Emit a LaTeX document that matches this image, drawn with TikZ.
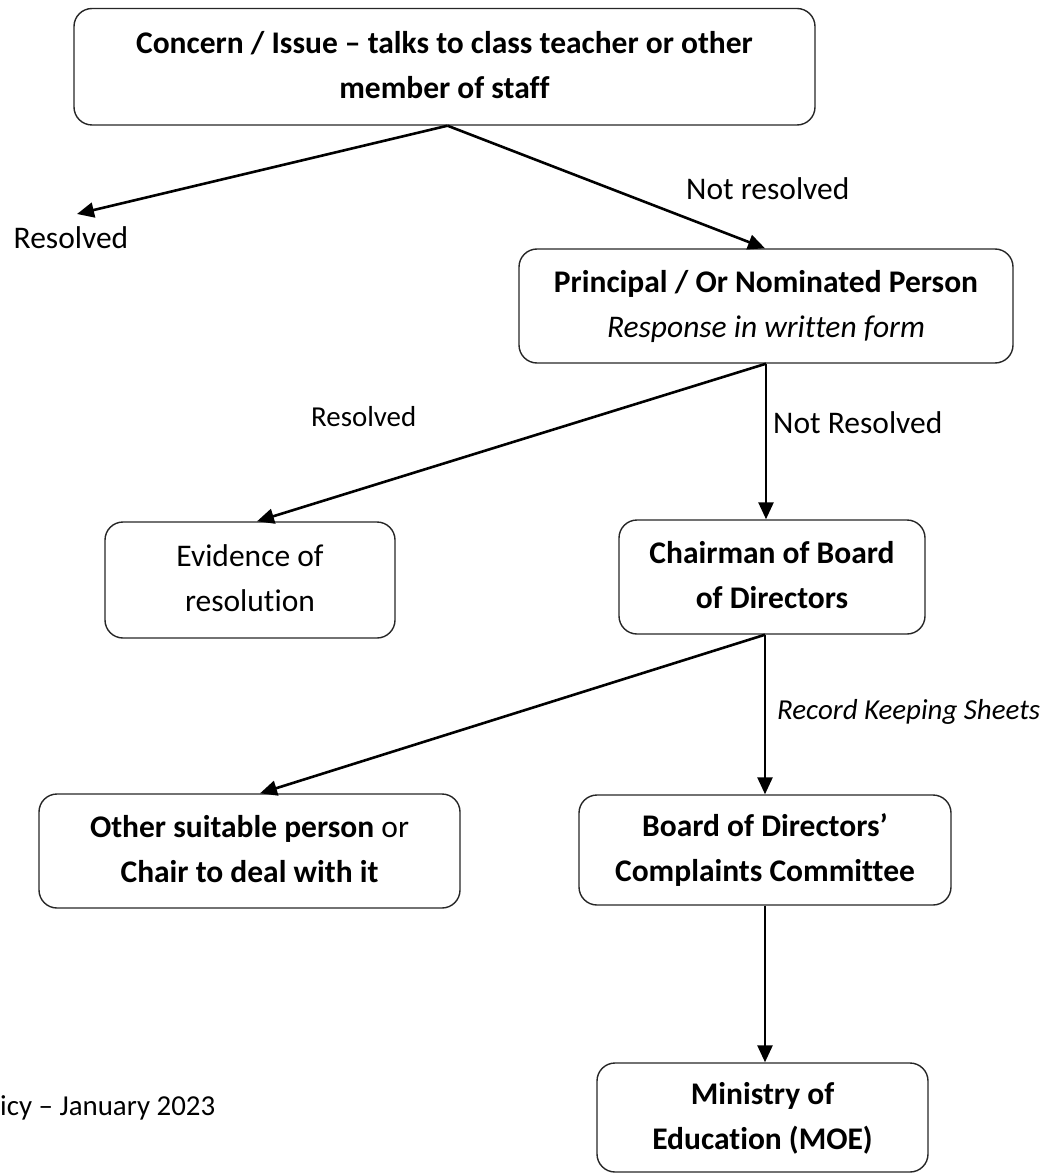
\documentclass[tikz,border=0pt]{standalone}
\usepackage{fontspec}
\setmainfont{Carlito}[Ligatures={NoCommon}]
\usetikzlibrary{arrows.meta}
\tikzset{
  box/.style={draw=black!85, line width=1.4pt, rounded corners=18pt, align=center,
    inner sep=0pt, font=\fontsize{31.5}{45}\selectfont},
  arr/.style={line width=2.6pt, -{Triangle[length=17pt,width=15pt]}},
  lbl/.style={inner sep=0pt, anchor=base west, font=\fontsize{31.5}{38}\selectfont},
  smalllbl/.style={lbl, font=\fontsize{28.9}{35}\selectfont}
}
\begin{document}
\begin{tikzpicture}[x=1pt,y=-1pt]
\useasboundingbox (0,0) rectangle (1058,1174);
% boxes
\node[box, minimum width=741pt, minimum height=116.5pt] (issue) at (444.5,66.75)
  {\strut\textbf{Concern / Issue – talks to class teacher or other}\\\strut\textbf{member of staff}};
\node[box, minimum width=494pt, minimum height=114pt] (princ) at (766,306)
  {\strut\textbf{Principal / Or Nominated Person}\\\strut\textit{Response in written form}};
\node[box, minimum width=290pt, minimum height=116pt] (evid) at (250,580)
  {\strut Evidence of\\\strut resolution};
\node[box, minimum width=306pt, minimum height=114pt] (chair) at (772,577)
  {\strut\textbf{Chairman of Board}\\\strut\textbf{of Directors}};
\node[box, minimum width=421pt, minimum height=114pt] (other) at (249.5,851)
  {\strut\textbf{Other suitable person} or\\\strut\textbf{Chair to deal with it}};
\node[box, minimum width=372pt, minimum height=110pt] (bod) at (765,850)
  {\strut\textbf{Board of Directors’}\\\strut\textbf{Complaints Committee}};
\node[box, minimum width=331pt, minimum height=109pt] (moe) at (762.5,1117.5)
  {\raisebox{-4pt}{\strut\textbf{Ministry of}}\\\raisebox{-4pt}{\strut\textbf{Education (MOE)}}};
% labels
\node[lbl] (res1) at (13.5,248) {Resolved};
\node[lbl] (nres1) at (686,200) {Not resolved};
\node[smalllbl] (res2) at (311,426) {Resolved};
\node[lbl] (nres2) at (773,433) {Not Resolved};
\node[smalllbl, font=\fontsize{28.9}{35}\selectfont\itshape] (rks) at (777,719) {Record Keeping Sheets};
\node[smalllbl] (foot) at (0,1115) {icy – January 2023};
\coordinate (resEnd) at (77,214);
% connectors
\draw[arr] ([xshift=3pt]issue.south) -- (resEnd);
\draw[arr] ([xshift=3pt]issue.south) -- ([xshift=-1pt]princ.north);
\draw[arr] (princ.south) -- ([xshift=7pt]evid.north);
\draw[arr] (princ.south) -- (princ.south |- chair.north);
\draw[arr] (chair.south -| bod.north) -- ([xshift=10.5pt]other.north);
\draw[arr] (chair.south -| bod.north) -- (bod.north);
\draw[arr] (bod.south) -- (bod.south |- moe.north);
\end{tikzpicture}
\end{document}
